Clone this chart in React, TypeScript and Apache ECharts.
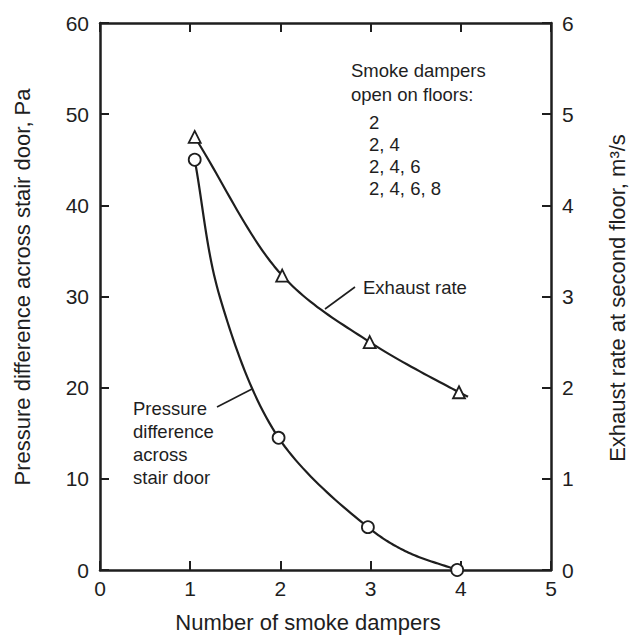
import React, { useEffect, useRef } from "react";
import * as echarts from "echarts";

// ---- data ----
const xTicks = [0, 1, 2, 3, 4, 5];
const leftTicks = [0, 10, 20, 30, 40, 50, 60];
const rightTicks = [0, 1, 2, 3, 4, 5, 6];

// Pressure difference across stair door, Pa (measured points)
const pressureX = [1.05, 1.98, 2.97, 3.96];
const pressureY = [45, 14.5, 4.7, 0];
// traced points along the drawn pressure curve
const pressureCurveX = [1.05, 1.33, 1.98, 2.97, 3.4, 3.96];
const pressureCurveY = [45, 29.9, 14.5, 4.7, 2.0, 0];

// Exhaust rate at second floor, m3/s (measured points)
const exhaustX = [1.05, 2.02, 2.99, 3.98];
const exhaustY = [4.75, 3.23, 2.5, 1.95];
// traced points along the drawn exhaust curve
const exhaustCurveX = [1.05, 2.02, 2.99, 3.98, 4.08];
const exhaustCurveY = [4.75, 3.23, 2.5, 1.95, 1.9];

const legendTitle = ["Smoke dampers", "open on floors:"];
const legendLines = ["2", "2, 4", "2, 4, 6", "2, 4, 6, 8"];
const pressureLabel = ["Pressure", "difference", "across", "stair door"];

const FONT = '"Liberation Sans", Arial, Helvetica, sans-serif';
const INK = "#1e1e1e";

const zip = (xs: number[], ys: number[]) => xs.map((x, i) => [x, ys[i]]);

// centripetal Catmull-Rom through pixel points (rendering only)
function spline(P: number[][], n = 24): number[][] {
  if (P.length < 3) return P;
  const pts = [
    [2 * P[0][0] - P[1][0], 2 * P[0][1] - P[1][1]],
    ...P,
    [2 * P[P.length - 1][0] - P[P.length - 2][0], 2 * P[P.length - 1][1] - P[P.length - 2][1]],
  ];
  const out: number[][] = [];
  const lerp = (a: number[], b: number[], ta: number, tb: number, t: number) => {
    const d = tb - ta || 1e-6;
    return [((tb - t) / d) * a[0] + ((t - ta) / d) * b[0], ((tb - t) / d) * a[1] + ((t - ta) / d) * b[1]];
  };
  const knot = (a: number[], b: number[]) => Math.pow(Math.hypot(b[0] - a[0], b[1] - a[1]), 0.5) || 1e-6;
  for (let i = 1; i < pts.length - 2; i++) {
    const p0 = pts[i - 1], p1 = pts[i], p2 = pts[i + 1], p3 = pts[i + 2];
    const t0 = 0, t1 = t0 + knot(p0, p1), t2 = t1 + knot(p1, p2), t3 = t2 + knot(p2, p3);
    for (let k = 0; k < n; k++) {
      const t = t1 + ((t2 - t1) * k) / n;
      const a1 = lerp(p0, p1, t0, t1, t), a2 = lerp(p1, p2, t1, t2, t), a3 = lerp(p2, p3, t2, t3, t);
      const b1 = lerp(a1, a2, t0, t2, t), b2 = lerp(a2, a3, t1, t3, t);
      out.push(lerp(b1, b2, t1, t2, t));
    }
  }
  out.push(P[P.length - 1]);
  return out;
}

const curveSeries = (xs: number[], ys: number[], yAxisIndex: number) => ({
  type: "custom",
  coordinateSystem: "cartesian2d",
  yAxisIndex,
  data: zip(xs, ys),
  encode: { x: 0, y: 1 },
  clip: false,
  silent: true,
  renderItem: (params: any, api: any) => {
    if (params.dataIndex !== 0) return null;
    const px = xs.map((x, i) => api.coord([x, ys[i]]));
    return {
      type: "polyline",
      shape: { points: spline(px) },
      style: { stroke: INK, lineWidth: 2.2, fill: "none", lineJoin: "round" },
    };
  },
});

export default function App() {
  const ref = useRef<HTMLDivElement>(null);
  useEffect(() => {
    if (!ref.current) return;
    const chart = echarts.init(ref.current, undefined, { renderer: "svg" });
    const txt = (text: string, x: number, y: number, size = 18.5, align = "left") => ({
      type: "text",
      x,
      y,
      silent: true,
      style: { text, font: `${size}px ${FONT}`, fill: INK, textAlign: align, textVerticalAlign: "middle" },
    });
    const graphics: any[] = [];
    legendTitle.forEach((t, i) => graphics.push(txt(t, 351, 70 + i * 24.5)));
    legendLines.forEach((t, i) => graphics.push(txt(t, 369, 122 + i * 22)));
    pressureLabel.forEach((t, i) => graphics.push(txt(t, 133, 408 + i * 23.3)));
    graphics.push(txt("Exhaust rate", 363, 287));
    graphics.push({ type: "line", silent: true, shape: { x1: 355, y1: 287, x2: 325, y2: 309 }, style: { stroke: INK, lineWidth: 1.6 } });
    graphics.push({ type: "line", silent: true, shape: { x1: 217, y1: 407, x2: 252, y2: 389 }, style: { stroke: INK, lineWidth: 1.6 } });
    // axis titles
    graphics.push({
      type: "text", x: 22, y: 287, rotation: Math.PI / 2, silent: true,
      style: { text: "Pressure difference across stair door, Pa", font: `22px ${FONT}`, fill: INK, textAlign: "center", textVerticalAlign: "middle" },
    });
    graphics.push({
      type: "text", x: 617, y: 298, rotation: Math.PI / 2, silent: true,
      style: { text: "Exhaust rate at second floor, m³/s", font: `22px ${FONT}`, fill: INK, textAlign: "center", textVerticalAlign: "middle" },
    });
    graphics.push({
      type: "text", x: 308, y: 622, silent: true,
      style: { text: "Number of smoke dampers", font: `22px ${FONT}`, fill: INK, textAlign: "center", textVerticalAlign: "middle" },
    });

    const axisLine = () => ({ show: true, onZero: false, lineStyle: { color: INK, width: 2.5 } });
    const tick = () => ({ show: true, inside: true, length: 9, lineStyle: { color: INK, width: 2 } });
    const label = () => ({ show: true, color: INK, fontSize: 21, fontFamily: FONT });

    chart.setOption({
      animation: false,
      backgroundColor: "#fff",
      grid: { left: 100, right: 84, top: 23, bottom: 68 },
      xAxis: [
        {
          type: "value", min: xTicks[0], max: xTicks[xTicks.length - 1], interval: 1, position: "bottom",
          axisLine: axisLine(), axisTick: tick(), splitLine: { show: false },
          axisLabel: { ...label(), margin: 8 },
        },
        {
          type: "value", min: xTicks[0], max: xTicks[xTicks.length - 1], interval: 1, position: "top",
          axisLine: axisLine(), axisTick: tick(), splitLine: { show: false }, axisLabel: { show: false },
        },
      ],
      yAxis: [
        {
          type: "value", min: leftTicks[0], max: leftTicks[leftTicks.length - 1], interval: 10, position: "left",
          axisLine: axisLine(), axisTick: tick(), splitLine: { show: false },
          axisLabel: { ...label(), margin: 11 },
        },
        {
          type: "value", min: rightTicks[0], max: rightTicks[rightTicks.length - 1], interval: 1, position: "right",
          axisLine: axisLine(), axisTick: tick(), splitLine: { show: false },
          axisLabel: { ...label(), margin: 11 },
        },
      ],
      series: [
        curveSeries(pressureCurveX, pressureCurveY, 0),
        curveSeries(exhaustCurveX, exhaustCurveY, 1),
        {
          type: "scatter", data: zip(pressureX, pressureY), symbol: "circle", symbolSize: 12, yAxisIndex: 0,
          itemStyle: { color: "#fff", borderColor: INK, borderWidth: 1.8, opacity: 1 }, z: 5,
        },
        {
          type: "scatter", data: zip(exhaustX, exhaustY), symbol: "triangle", symbolSize: 12, yAxisIndex: 1,
          itemStyle: { color: "#fff", borderColor: INK, borderWidth: 1.8, opacity: 1 }, z: 5,
        },
      ],
      graphic: graphics,
    });
    return () => chart.dispose();
  }, []);
  return <div ref={ref} style={{ position: "fixed", left: 0, top: 0, width: 635, height: 638, background: "#fff" }} />;
}
